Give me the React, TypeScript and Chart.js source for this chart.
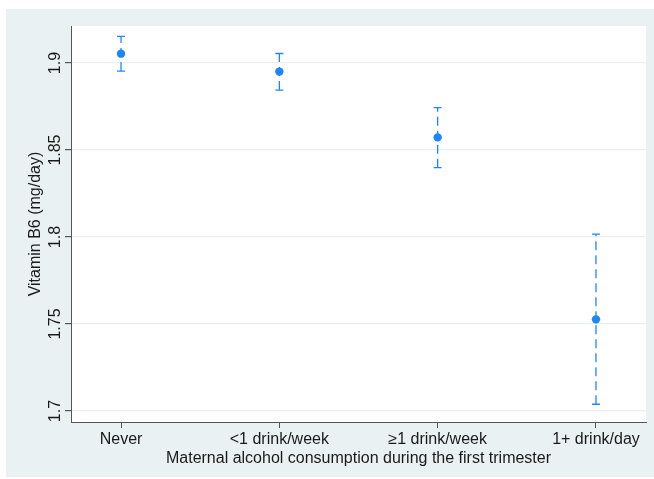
import React, { useEffect, useRef } from "react";
import { Chart, registerables } from "chart.js";

Chart.register(...registerables);

const categories = ["Never", "<1 drink/week", "≥1 drink/week", "1+ drink/day"];
const means = [1.9054, 1.8951, 1.8573, 1.7527];
const lowerCI = [1.8954, 1.8845, 1.8399, 1.7039];
const upperCI = [1.9153, 1.9055, 1.8744, 1.8017];
const yTicks = [1.7, 1.75, 1.8, 1.85, 1.9];
const yTickLabels = ["1.7", "1.75", "1.8", "1.85", "1.9"];
const xTitle = "Maternal alcohol consumption during the first trimester";
const yTitle = "Vitamin B6 (mg/day)";

const BLUE = "rgb(26,135,255)";
const AXIS = "#555555";
const GRID = "rgb(234,240,242)";
const BG = "rgb(234,241,243)";
const TEXT = "#1a1a1a";
const FONT = '16px "Liberation Sans", Arial, sans-serif';

export default function App() {
  const ref = useRef<HTMLCanvasElement | null>(null);

  useEffect(() => {
    document.body.style.margin = "0";
    const canvas = ref.current;
    if (!canvas) return;

    const bgPlugin = {
      id: "bgPlugin",
      beforeDraw(chart: any) {
        const { ctx, chartArea } = chart;
        ctx.save();
        ctx.fillStyle = "#ffffff";
        ctx.fillRect(0, 0, chart.width, chart.height);
        ctx.fillStyle = BG;
        ctx.fillRect(6, 9, chart.width - 6, 468);
        ctx.fillStyle = "#ffffff";
        ctx.fillRect(chartArea.left, chartArea.top, chartArea.right - chartArea.left, chartArea.bottom - chartArea.top);
        ctx.restore();
      },
    };

    const errPlugin = {
      id: "errPlugin",
      beforeDatasetsDraw(chart: any) {
        const { ctx } = chart;
        const xs = chart.scales.x;
        const ys = chart.scales.y;
        ctx.save();
        ctx.strokeStyle = BLUE;
        ctx.lineWidth = 1.3;
        for (let i = 0; i < categories.length; i++) {
          const x = xs.getPixelForValue(i);
          const yl = ys.getPixelForValue(lowerCI[i]);
          const yh = ys.getPixelForValue(upperCI[i]);
          ctx.setLineDash([9, 5]);
          ctx.beginPath();
          ctx.moveTo(x, yl);
          ctx.lineTo(x, yh);
          ctx.stroke();
          ctx.setLineDash([]);
          ctx.beginPath();
          ctx.moveTo(x - 4, yl);
          ctx.lineTo(x + 4, yl);
          ctx.moveTo(x - 4, yh);
          ctx.lineTo(x + 4, yh);
          ctx.stroke();
        }
        ctx.restore();
      },
      afterDraw(chart: any) {
        const { ctx, chartArea } = chart;
        const xs = chart.scales.x;
        const ys = chart.scales.y;
        ctx.save();
        ctx.fillStyle = TEXT;
        ctx.font = FONT;
        ctx.textAlign = "center";
        ctx.textBaseline = "alphabetic";
        for (let i = 0; i < categories.length; i++) {
          ctx.fillText(categories[i], xs.getPixelForValue(i), 444.3);
        }
        ctx.fillText(xTitle, (chartArea.left + chartArea.right) / 2, 462.7);
        for (let i = 0; i < yTicks.length; i++) {
          const y = ys.getPixelForValue(yTicks[i]);
          ctx.save();
          ctx.translate(59.5, y);
          ctx.rotate(-Math.PI / 2);
          ctx.fillText(yTickLabels[i], 0, 0);
          ctx.restore();
        }
        ctx.save();
        ctx.translate(39.5, (chartArea.top + chartArea.bottom) / 2);
        ctx.rotate(-Math.PI / 2);
        ctx.fillText(yTitle, 0, 0);
        ctx.restore();
        ctx.restore();
      },
    };

    const chart = new Chart(canvas, {
      type: "scatter",
      data: {
        datasets: [
          {
            data: means.map((m, i) => ({ x: i, y: m })),
            backgroundColor: BLUE,
            borderColor: BLUE,
            pointRadius: 4.2,
            pointBorderWidth: 0,
          },
        ],
      },
      options: {
        animation: false,
        responsive: false,
        layout: { padding: { top: 26, right: 8, left: 0, bottom: 0 } },
        plugins: { legend: { display: false }, tooltip: { enabled: false } },
        scales: {
          x: {
            type: "linear",
            min: -0.316,
            max: 3.316,
            afterBuildTicks: (s: any) => {
              s.ticks = categories.map((_, i) => ({ value: i }));
            },
            afterFit: (s: any) => {
              s.height = 57;
            },
            grid: {
              drawOnChartArea: false,
              drawTicks: true,
              tickLength: 6,
              color: AXIS,
              tickColor: AXIS,
              lineWidth: 1,
            },
            border: { display: true, color: AXIS, width: 1 },
            ticks: { display: false },
          },
          y: {
            type: "linear",
            min: 1.6937,
            max: 1.9213,
            afterBuildTicks: (s: any) => {
              s.ticks = yTicks.map((v) => ({ value: v }));
            },
            afterFit: (s: any) => {
              s.width = 71;
            },
            grid: {
              drawOnChartArea: true,
              drawTicks: true,
              tickLength: 6,
              color: GRID,
              tickColor: AXIS,
              lineWidth: 1.2,
            },
            border: { display: true, color: AXIS, width: 1 },
            ticks: { display: false },
          },
        },
      },
      plugins: [bgPlugin, errPlugin],
    } as any);

    return () => chart.destroy();
  }, []);

  return (
    <div style={{ width: 654, height: 479 }}>
      <canvas ref={ref} width={654} height={479} style={{ display: "block" }} />
    </div>
  );
}
